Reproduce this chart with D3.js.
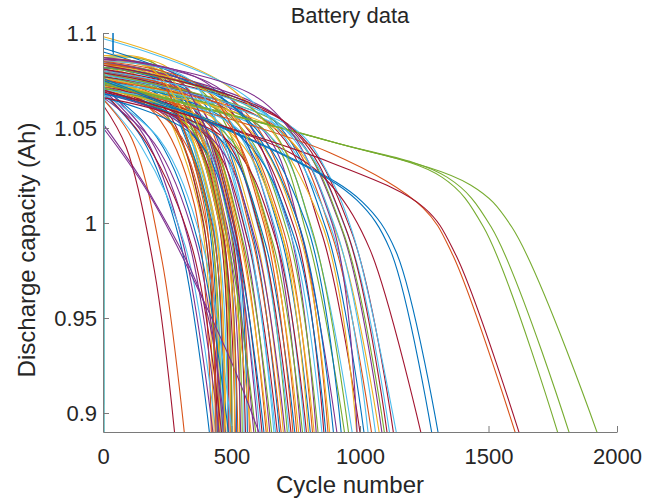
<!DOCTYPE html>
<html>
<head>
<meta charset="utf-8">
<script src="https://cdn.jsdelivr.net/npm/d3@7"></script>
<style>
  body { margin: 0; background: #fff; }
  text { font-family: "Liberation Sans", Arial, sans-serif; fill: #262626; }
</style>
</head>
<body>
<svg id="chart" width="659" height="500"></svg>
<script>
/*
  Battery data - discharge capacity vs cycle number, one line per cell
*/

// cycle where each cell leaves the bottom of the plot (~0.89 Ah)
var endCycle = [418, 422, 428, 432, 440, 443, 445,
  447, 450, 453, 456, 459, 462, 465,
  468, 474, 477, 480, 483, 486, 489,
  492, 495, 498, 500, 502, 506, 515,
  520, 525, 530, 536, 542, 548, 555,
  562, 570, 580, 590, 598, 615, 622,
  630, 638, 645, 652, 660, 675, 682,
  690, 697, 705, 712, 720, 728, 735,
  750, 757, 765, 772, 780, 788, 795,
  810, 818, 825, 832, 840, 855, 862,
  870, 878, 885, 915, 945, 975, 1005,
  1020, 1050, 1080, 1090, 1100, 1120, 1135,
  900, 320, 990, 470, 1780, 1035, 282,
  930, 436, 471, 620, 1825, 1148, 1245,
  1285, 1615, 510, 606, 1935, 668, 1630,
  1310, 742, 802, 990, 960, 1065, 1110];

// capacity at the first cycle
var startCap = [1.068, 1.075, 1.083, 1.07, 1.078, 1.065, 1.076,
  1.081, 1.074, 1.088, 1.072, 1.079, 1.084, 1.069,
  1.077, 1.073, 1.082, 1.066, 1.087, 1.076, 1.08,
  1.071, 1.083, 1.074, 1.084, 1.079, 1.068, 1.072,
  1.081, 1.076, 1.088, 1.07, 1.079, 1.083, 1.073,
  1.08, 1.077, 1.075, 1.082, 1.07, 1.072, 1.079,
  1.066, 1.083, 1.075, 1.08, 1.071, 1.077, 1.069,
  1.082, 1.074, 1.079, 1.068, 1.084, 1.078, 1.072,
  1.068, 1.08, 1.074, 1.087, 1.071, 1.079, 1.066,
  1.075, 1.08, 1.07, 1.086, 1.077, 1.073, 1.079,
  1.068, 1.084, 1.076, 1.078, 1.074, 1.07, 1.077,
  1.083, 1.075, 1.072, 1.085, 1.078, 1.074, 1.081,
  1.092, 1.065, 1.098, 1.052, 1.074, 1.097, 1.062,
  1.09, 1.086, 1.085, 1.05, 1.074, 1.078, 1.07,
  1.075, 1.073, 1.085, 1.086, 1.073, 1.085, 1.07,
  1.076, 1.085, 1.083, 1.087, 1.082, 1.08, 1.083];

// start of the knee
var kneeCycle = [150, 200, 160, 160, 240, 150, 230,
  170, 250, 200, 180, 220, 180, 170,
  230, 280, 250, 200, 210, 300, 260,
  210, 240, 300, 260, 280, 220, 330,
  300, 340, 260, 350, 320, 300, 360,
  340, 360, 320, 300, 340, 350, 330,
  360, 320, 370, 350, 380, 390, 400,
  370, 410, 390, 420, 380, 420, 440,
  450, 430, 460, 420, 470, 450, 480,
  490, 470, 500, 460, 510, 520, 500,
  530, 510, 540, 600, 620, 640, 650,
  640, 680, 700, 680, 710, 720, 720,
  500, 110, 506, 180, 883, 572, 90,
  520, 180, 200, 180, 883, 740, 728,
  728, 883, 250, 280, 883, 340, 883,
  750, 400, 440, 622, 600, 670, 700];

var kneeCap = [1.045, 1.058, 1.075, 1.046, 1.058, 1.04, 1.062,
  1.079, 1.055, 1.084, 1.045, 1.07, 1.083, 1.042,
  1.066, 1.05, 1.068, 1.042, 1.083, 1.052, 1.068,
  1.045, 1.076, 1.055, 1.075, 1.063, 1.044, 1.05,
  1.065, 1.053, 1.081, 1.047, 1.062, 1.07, 1.05,
  1.062, 1.055, 1.058, 1.07, 1.05, 1.052, 1.064,
  1.045, 1.072, 1.055, 1.065, 1.05, 1.056, 1.046,
  1.066, 1.052, 1.061, 1.045, 1.07, 1.057, 1.05,
  1.045, 1.061, 1.052, 1.072, 1.048, 1.06, 1.044,
  1.053, 1.06, 1.047, 1.07, 1.054, 1.05, 1.058,
  1.046, 1.064, 1.053, 1.052, 1.05, 1.047, 1.052,
  1.057, 1.05, 1.047, 1.056, 1.05, 1.048, 1.052,
  1.062, 1.045, 1.07, 1.016, 1.043, 1.065, 1.04,
  1.06, 1.082, 1.08, 1.015, 1.043, 1.05, 1.037,
  1.034, 1.037, 1.078, 1.078, 1.043, 1.075, 1.032,
  1.033, 1.07, 1.066, 1.064, 1.058, 1.054, 1.054];

// point where the fast drop is under way
var bendCycle = [300, 355, 370, 310, 385, 320, 390,
  395, 400, 405, 335, 410, 415, 345,
  420, 425, 430, 360, 440, 440, 445,
  370, 450, 452, 455, 455, 385, 465,
  472, 475, 485, 485, 490, 500, 500,
  510, 515, 470, 480, 485, 505, 510,
  515, 525, 530, 540, 545, 560, 565,
  575, 580, 590, 595, 605, 605, 615,
  630, 640, 645, 655, 660, 670, 675,
  690, 700, 705, 715, 720, 735, 745,
  750, 760, 765, 770, 795, 820, 850,
  865, 890, 915, 925, 935, 955, 965,
  760, 230, 850, 400, 1480, 880, 200,
  790, 385, 425, 480, 1510, 980, 1039,
  1117, 1358, 465, 495, 1590, 555, 1370,
  1140, 625, 685, 891, 810, 905, 945];

var bendCap = [0.99, 1.01, 1.01, 0.99, 1.005, 0.988, 1.0,
  1.012, 1.0, 1.01, 0.99, 1.005, 1.01, 0.988,
  1.003, 0.998, 1.002, 0.99, 1.01, 0.998, 1.004,
  0.99, 1.006, 1.0, 1.006, 1.002, 0.99, 0.996,
  1.002, 0.997, 1.01, 0.993, 1.0, 1.004, 0.995,
  1.0, 0.998, 0.995, 1.0, 0.99, 0.993, 0.998,
  0.99, 1.0, 0.993, 0.998, 0.99, 0.993, 0.99,
  0.998, 0.992, 0.996, 0.99, 1.0, 0.997, 0.993,
  0.99, 0.998, 0.993, 1.002, 0.99, 0.997, 0.99,
  0.994, 0.997, 0.99, 1.002, 0.994, 0.992, 0.997,
  0.99, 1.0, 0.994, 0.995, 0.993, 0.992, 0.995,
  0.998, 0.994, 0.992, 0.998, 0.995, 0.993, 0.996,
  1.0, 0.98, 1.0, 0.955, 0.998, 1.0, 0.975,
  1.0, 1.015, 1.008, 0.933, 0.998, 0.991, 0.986,
  0.986, 0.984, 1.008, 1.002, 0.998, 1.0, 0.984,
  0.985, 1.0, 1.0, 1.0, 0.998, 0.997, 0.997];

var endCap = 0.885;

// extra reading between knee and bend for the long-lived cells
var midCells = [88, 95, 96, 97, 98, 99, 102, 104, 105],
    midCycle = [1320, 1340, 880, 900, 988, 1245, 1430, 1250, 1010],
    midCap = [1.024, 1.024, 1.025, 1.018, 1.012, 1.008, 1.02, 1.008, 1.011];

// cells whose first reading is far below the rest
var lowStartCells = [5, 11, 19],
    lowStartCap = [0.2, 0.5, 0.3];

// one cell with a short upward spike early on
var spikeCell = 84,
    spikeCycles = [38, 39, 40],
    spikeCaps = [1.09, 1.13, 1.089];

var xTicks = [0, 500, 1000, 1500, 2000],
    yTicks = [0.9, 0.95, 1, 1.05, 1.1],
    yTickLabels = ["0.9", "0.95", "1", "1.05", "1.1"];

var colors = ["#0072BD", "#D95319", "#EDB120", "#7E2F8E", "#77AC30", "#4DBEEE", "#A2142F"];

var margin = {top: 33, right: 42, bottom: 68, left: 103},
    width = 659 - margin.left - margin.right,
    height = 500 - margin.top - margin.bottom;

var svg = d3.select("#chart");

var x = d3.scaleLinear().domain([0, 2000]).range([0, width]);
var y = d3.scaleLinear().domain([0.89, 1.1]).range([height, 0]);

var g = svg.append("g")
  .attr("transform", "translate(" + margin.left + "," + margin.top + ")");

g.append("clipPath").attr("id", "plotClip")
  .append("rect").attr("x", 0).attr("y", 0).attr("width", width).attr("height", height);

// smooth part of every cell
var cells = endCycle.map(function(e, i){
  var first = lowStartCells.indexOf(i) >= 0 ? 4 : 1;
  var pts = [[first, startCap[i]], [kneeCycle[i], kneeCap[i]]];
  var m = midCells.indexOf(i);
  if(m >= 0) pts.push([midCycle[m], midCap[m]]);
  pts.push([bendCycle[i], bendCap[i]], [e, endCap]);
  return pts;
});

// odd readings, drawn straight
var extras = lowStartCells.map(function(c, k){
  return {cell: c, pts: [[1, lowStartCap[k]], [4, startCap[c]]]};
});
extras.push({cell: spikeCell, pts: spikeCycles.map(function(c, k){ return [c, spikeCaps[k]]; })});

var line = d3.line()
  .x(function(d){ return x(d[0]); })
  .y(function(d){ return y(d[1]); })
  .curve(d3.curveCatmullRom.alpha(0.5));

var straight = d3.line()
  .x(function(d){ return x(d[0]); })
  .y(function(d){ return y(d[1]); });

var plot = g.append("g").attr("clip-path", "url(#plotClip)");

plot.selectAll("path.cell")
  .data(cells)
  .enter().append("path")
    .attr("class", "cell")
    .attr("d", line)
    .attr("fill", "none")
    .attr("stroke", function(d, i){ return colors[i % colors.length]; })
    .attr("stroke-width", 1.1);

plot.selectAll("path.extra")
  .data(extras)
  .enter().append("path")
    .attr("class", "extra")
    .attr("d", function(d){ return straight(d.pts); })
    .attr("fill", "none")
    .attr("stroke", function(d){ return colors[d.cell % colors.length]; })
    .attr("stroke-width", 1.1);

//Add x axis
var xAxis = g.append("g")
  .attr("transform", "translate(0," + height + ")")
  .call(d3.axisBottom(x).tickValues(xTicks).tickSizeInner(-6).tickSizeOuter(0).tickPadding(16)
    .tickFormat(d3.format("d")));

//Add y axis
var yAxis = g.append("g")
  .call(d3.axisLeft(y).tickValues(yTicks).tickSizeInner(-6).tickSizeOuter(0).tickPadding(6)
    .tickFormat(function(d, i){ return yTickLabels[i]; }));

[xAxis, yAxis].forEach(function(ax){
  ax.select(".domain").attr("stroke", "#7a7a7a").attr("stroke-width", 1);
  ax.selectAll(".tick line").attr("stroke", "#7a7a7a");
  ax.selectAll("text")
    .style("font-family", "Liberation Sans, Arial, sans-serif")
    .style("font-size", "22px")
    .attr("fill", "#262626");
});

//Labels
svg.append("text")
  .attr("x", 350)
  .attr("y", 23)
  .attr("text-anchor", "middle")
  .style("font-size", "22px")
  .text("Battery data");

svg.append("text")
  .attr("x", 350)
  .attr("y", 493)
  .attr("text-anchor", "middle")
  .style("font-size", "24px")
  .text("Cycle number");

svg.append("text")
  .attr("transform", "translate(35,250) rotate(-90)")
  .attr("text-anchor", "middle")
  .style("font-size", "24px")
  .text("Discharge capacity (Ah)");
</script>
</body>
</html>
